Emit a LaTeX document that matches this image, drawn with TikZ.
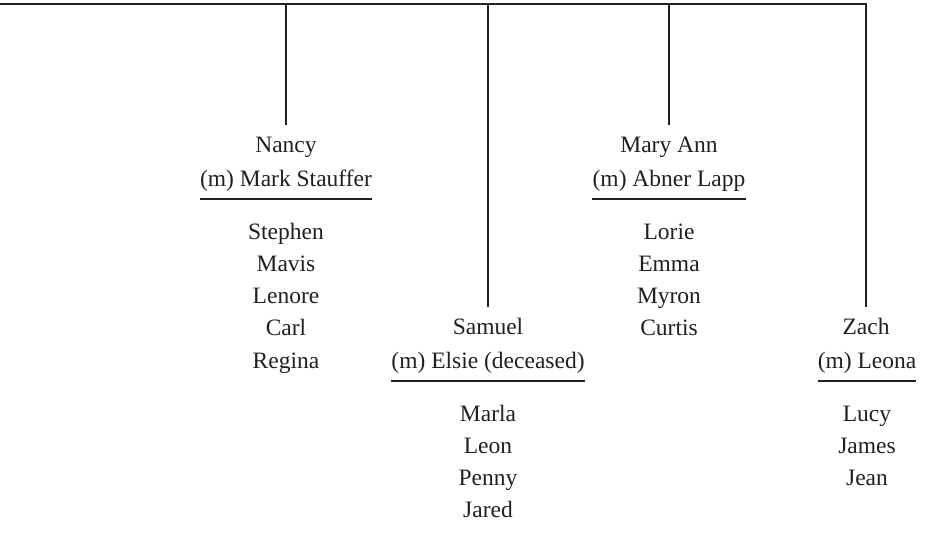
\documentclass[tikz,border=0pt]{standalone}
\usepackage{fontspec}
\setmainfont{Liberation Serif}
\usetikzlibrary{calc}
\definecolor{ink}{HTML}{231F20}
\begin{document}
\begin{tikzpicture}[x=1pt,y=-1pt,
  every node/.style={font=\fontsize{23.5}{28}\selectfont, text=ink, inner sep=0pt},
  person/.style={anchor=base, text height=15.5pt},
  link/.style={draw=ink, line width=2pt, shorten >=11pt},
  rule/.style={draw=ink, line width=2.4pt}]
\useasboundingbox (0,0) rectangle (925,538);
% Nancy block
\node[person] (nancy) at (286,152) {Nancy};
\node[anchor=base] (nancysp) at (286,186) {(m) Mark Stauffer};
\node[anchor=base] (n1) at (286,239) {Stephen};
\node[anchor=base] (n2) at (286,271.3) {Mavis};
\node[anchor=base] (n3) at (286,303.6) {Lenore};
\node[anchor=base] (n4) at (286,335.9) {Carl};
\node[anchor=base] (n5) at (286,368.2) {Regina};
% Samuel block
\node[person] (samuel) at (488,334) {Samuel};
\node[anchor=base] (samuelsp) at (488,368) {(m) Elsie (deceased)};
\node[anchor=base] (s1) at (488,421) {Marla};
\node[anchor=base] (s2) at (488,453.3) {Leon};
\node[anchor=base] (s3) at (488,485.6) {Penny};
\node[anchor=base] (s4) at (488,517.9) {Jared};
% Mary Ann block
\node[person] (mary) at (669,152) {Mary Ann};
\node[anchor=base] (marysp) at (669,186) {(m) Abner Lapp};
\node[anchor=base] (m1) at (669,239) {Lorie};
\node[anchor=base] (m2) at (669,271.3) {Emma};
\node[anchor=base] (m3) at (669,303.6) {Myron};
\node[anchor=base] (m4) at (669,335.9) {Curtis};
% Zach block
\node[person] (zach) at (866,334) {Zach};
\node[anchor=base] (zachsp) at (867,368) {(m) Leona};
\node[anchor=base] (z1) at (867,421) {Lucy};
\node[anchor=base] (z2) at (867,453.3) {James};
\node[anchor=base] (z3) at (867,485.6) {Jean};
% rules under spouses
\foreach \sp in {nancysp,samuelsp,marysp,zachsp}{
  \draw[rule] ([yshift=-13pt]\sp.base west) -- ([yshift=-13pt]\sp.base east);
}
% connectors
\coordinate (top) at (0,4);
\draw[link] (top) -- (top -| zach.north) -- (zach.north);
\draw[link] (top -| nancy.north) -- (nancy.north);
\draw[link] (top -| samuel.north) -- (samuel.north);
\draw[link] (top -| mary.north) -- (mary.north);
\end{tikzpicture}
\end{document}
